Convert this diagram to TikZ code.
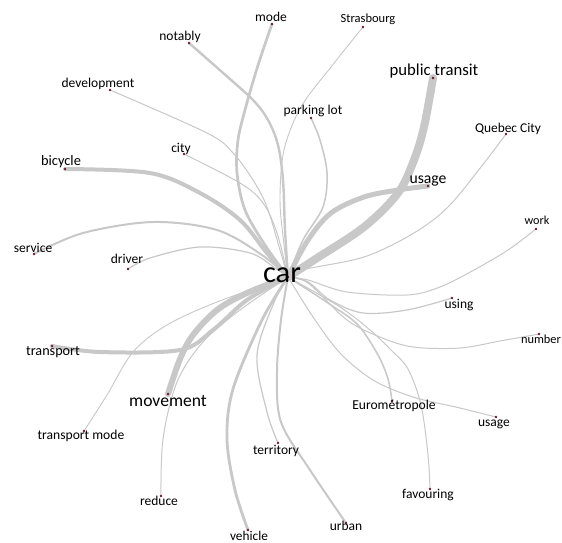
\documentclass[tikz,border=0pt]{standalone}
\usepackage{fontspec}
\setmainfont{Carlito}
\definecolor{edgegray}{HTML}{C8C8C8}
\definecolor{dotred}{HTML}{6E1A2A}
\newcommand{\fsz}[1]{\fontsize{#1}{#1}\selectfont}
\tikzset{
  edge/.style={draw=edgegray, line cap=round, line join=round},
  dotn/.style={circle, fill=dotred, inner sep=0pt, minimum size=2.8pt},
  lbl/.style={anchor=base, inner sep=0pt, text=black},
  sm/.style={smooth, tension=0.55}
}
\begin{document}
\begin{tikzpicture}[x=1pt,y=-1pt]
\useasboundingbox[fill=white] (0,0) rectangle (562,543);
% positions of the word dots
\coordinate (c) at (288,277);
\coordinate (mode) at (272,24);
\coordinate (notably) at (189,43);
\coordinate (development) at (110,90);
\coordinate (city) at (184,154);
\coordinate (bicycle) at (65,169);
\coordinate (service) at (34,254);
\coordinate (driver) at (128,269);
\coordinate (strasbourg) at (363,27);
\coordinate (pubtr) at (433,78);
\coordinate (parking) at (311,118);
\coordinate (quebec) at (506,134);
\coordinate (usageA) at (428,186);
\coordinate (work) at (536,229);
\coordinate (using) at (452,298);
\coordinate (number) at (539,334);
\coordinate (euro) at (392,401);
\coordinate (usageB) at (496,417);
\coordinate (favouring) at (430,489);
\coordinate (urban) at (346,523);
\coordinate (territory) at (278,443);
\coordinate (vehicle) at (248,530);
\coordinate (reduce) at (161,496);
\coordinate (movement) at (168,394);
\coordinate (transport) at (52,346);
\coordinate (tmode) at (84,431);
% connectors
\draw[edge, line width=1pt] plot[sm] coordinates {(c) (280,250) (267,207) (253,180) (233,153) (207,133) (development)};
\draw[edge, line width=1pt] plot[sm] coordinates {(c) (277,233) (263,203) (240,183) (city)};
\draw[edge, line width=1.2pt] plot[sm] coordinates {(c) (275,268) (250,253) (200,247) (150,258) (driver)};
\draw[edge, line width=0.9pt] plot[sm] coordinates {(c) (284,245) (280,200) (284,150) (301,107) (331,67) (strasbourg)};
\draw[edge, line width=1.5pt] plot[sm] coordinates {(c) (303,240) (323,207) (327,173) (320,140) (parking)};
\draw[edge, line width=1pt] plot[sm] coordinates {(c) (301,270) (364,257) (414,233) (448,207) (481,167) (quebec)};
\draw[edge, line width=1pt] plot[sm] coordinates {(c) (308,280) (347,292) (407,295) (440,287) (474,270) (508,250) (work)};
\draw[edge, line width=1.2pt] plot[sm] coordinates {(c) (308,282) (330,300) (363,313) (407,310) (using)};
\draw[edge, line width=1pt] plot[sm] coordinates {(c) (308,283) (347,320) (380,337) (413,347) (460,348) (500,341) (number)};
\draw[edge, line width=1.5pt] plot[sm] coordinates {(c) (331,305) (358,325) (378,355) (388,379) (euro)};
\draw[edge, line width=1pt] plot[sm] coordinates {(c) (313,317) (340,353) (373,380) (413,397) (460,408) (usageB)};
\draw[edge, line width=1pt] plot[sm] coordinates {(c) (340,307) (370,330) (391,350) (408,369) (421,405) (428,455) (favouring)};
\draw[edge, line width=2pt] plot[sm] coordinates {(c) (281,320) (277,372) (281,422) (310,470) (urban)};
\draw[edge, line width=1.2pt] plot[sm] coordinates {(c) (275,300) (257,355) (267,412) (territory)};
\draw[edge, line width=2.8pt] plot[sm] coordinates {(c) (262,320) (233,389) (227,439) (235,490) (vehicle)};
\draw[edge, line width=1pt] plot[sm] coordinates {(c) (240,310) (203,342) (177,382) (163,439) (reduce)};
\draw[edge, line width=0.9pt] plot[sm] coordinates {(c) (217,302) (167,325) (133,352) (107,395) (tmode)};
\draw[edge, line width=2pt] plot[sm] coordinates {(c) (262,255) (217,230) (153,222) (83,233) (service)};
\draw[edge, line width=2.4pt] plot[sm] coordinates {(c) (285,230) (283,180) (278,145) (268,120) (253,100) (222,72) (notably)};
\draw[edge, line width=2.7pt] plot[sm] coordinates {(c) (265,245) (245,210) (237,173) (238,140) (245,110) (255,75) (263,50) (mode)};
\draw[edge, line width=4pt] plot[sm] coordinates {(c) (267,253) (240,220) (200,193) (150,173) (bicycle)};
\draw[edge, line width=4pt] plot[sm] coordinates {(c) (247,300) (213,330) (180,350) (100,352) (transport)};
\draw[edge, line width=6pt] plot[sm] coordinates {(c) (247,293) (217,310) (193,335) (180,359) (movement)};
\draw[edge, line width=5pt] plot[sm] coordinates {(c) (308,240) (331,213) (364,197) (398,190) (usageA)};
\draw[edge, line width=8pt] plot[sm] coordinates {(c) (314,260) (364,227) (398,193) (414,160) (424,127) (pubtr)};
% dots
\foreach \n in {c,mode,notably,development,city,bicycle,service,driver,strasbourg,pubtr,parking,quebec,usageA,work,using,number,euro,usageB,favouring,urban,territory,vehicle,reduce,movement,transport,tmode}
  \node[dotn] (\n D) at (\n) {};
% labels
\node[lbl, font=\fsz{30.4}] (cL) at (282,282) {car};
\node[lbl, font=\fsz{13.5}] (modeL) at (271,22) {mode};
\node[lbl, font=\fsz{13.5}] (notablyL) at (180,41) {notably};
\node[lbl, font=\fsz{13.5}] (developmentL) at (98,87) {development};
\node[lbl, font=\fsz{13.5}] (cityL) at (181,152) {city};
\node[lbl, font=\fsz{14.4}] (bicycleL) at (61,165) {bicycle};
\node[lbl, font=\fsz{13.5}] (serviceL) at (33,252) {service};
\node[lbl, font=\fsz{13.5}] (driverL) at (127,263) {driver};
\node[lbl, font=\fsz{12.5}] (strasbourgL) at (368,23) {Strasbourg};
\node[lbl, font=\fsz{16.7}] (pubtrL) at (434,76) {public transit};
\node[lbl, font=\fsz{13.5}] (parkingL) at (313,114) {parking lot};
\node[lbl, font=\fsz{13.4}] (quebecL) at (508,132) {Quebec City};
\node[lbl, font=\fsz{15.7}] (usageAL) at (428,183) {usage};
\node[lbl, font=\fsz{12.2}] (workL) at (537,224) {work};
\node[lbl, font=\fsz{14.2}] (transportL) at (53,355) {transport};
\node[lbl, font=\fsz{17.6}] (movementL) at (168,406) {movement};
\node[lbl, font=\fsz{13.6}] (tmodeL) at (81,439) {transport mode};
\node[lbl, font=\fsz{13.5}] (reduceL) at (159,505) {reduce};
\node[lbl, font=\fsz{13.3}] (vehicleL) at (249,540) {vehicle};
\node[lbl, font=\fsz{13.5}] (territoryL) at (276,454) {territory};
\node[lbl, font=\fsz{13.5}] (usingL) at (459,308) {using};
\node[lbl, font=\fsz{12.4}] (numberL) at (541,343) {number};
\node[lbl, font=\fsz{13.6}] (euroL) at (394,409) {Eurométropole};
\node[lbl, font=\fsz{13.5}] (usageBL) at (494,426) {usage};
\node[lbl, font=\fsz{13.5}] (favouringL) at (428,498) {favouring};
\node[lbl, font=\fsz{13.5}] (urbanL) at (346,530) {urban};
\end{tikzpicture}
\end{document}
